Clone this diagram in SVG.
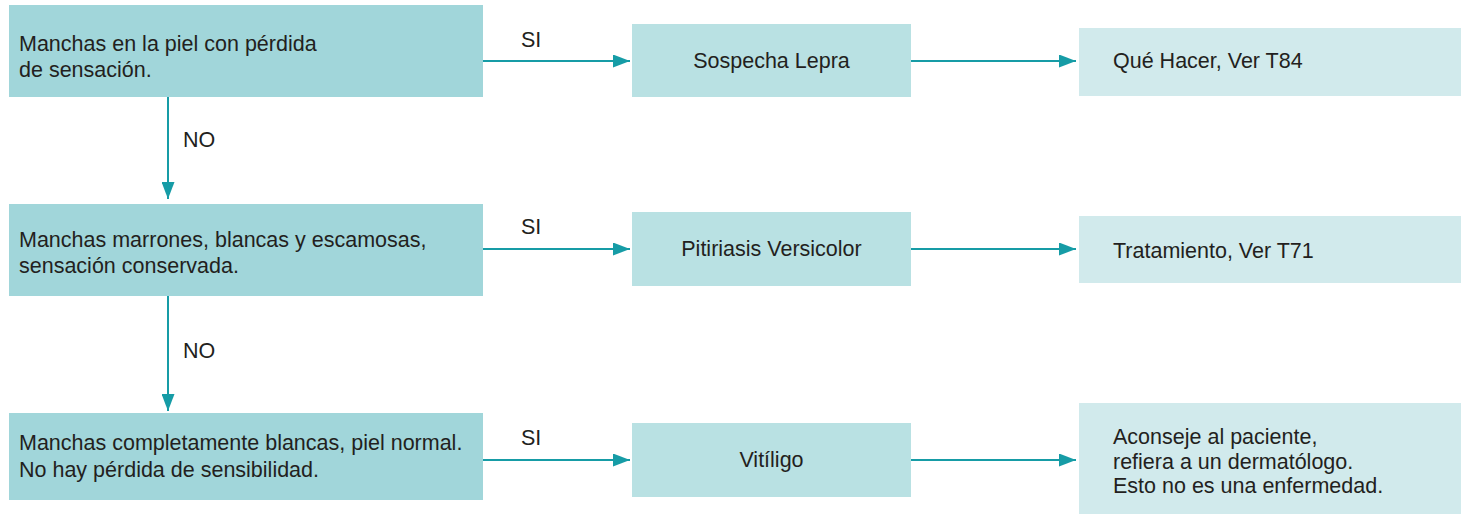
<svg xmlns="http://www.w3.org/2000/svg" width="1461" height="514" viewBox="0 0 1461 514">
<style>
.t{font-family:"Liberation Sans",Arial,sans-serif;font-size:21.5px;fill:#231f20}
.c{text-anchor:middle}
.q{fill:#a1d6da}
.d{fill:#b9e1e3}
.a{fill:#d1eaec}
.ln{stroke:#169ca6;stroke-width:2;fill:none;marker-end:url(#ah)}
</style>
<defs>
<marker id="ah" markerWidth="17" markerHeight="13" refX="17" refY="6.5" orient="auto" markerUnits="userSpaceOnUse">
<path d="M0,0 L17,6.5 L0,13 Z" fill="#169ca6"/>
</marker>
</defs>
<g id="q1"><rect class="q" x="9" y="5" width="474" height="92"/>
<text class="t" x="19" y="51">Manchas en la piel con pérdida</text>
<text class="t" x="19" y="77">de sensación.</text></g>
<g id="d1"><rect class="d" x="632" y="24" width="279" height="73"/>
<text class="t c" x="771.5" y="68">Sospecha Lepra</text></g>
<g id="a1"><rect class="a" x="1079" y="28" width="382" height="68"/>
<text class="t" x="1113" y="68">Qué Hacer, Ver T84</text></g>
<g id="q2"><rect class="q" x="9" y="204" width="474" height="92"/>
<text class="t" x="19" y="247">Manchas marrones, blancas y escamosas,</text>
<text class="t" x="19" y="273">sensación conservada.</text></g>
<g id="d2"><rect class="d" x="632" y="212" width="279" height="74"/>
<text class="t c" x="771.5" y="256">Pitiriasis Versicolor</text></g>
<g id="a2"><rect class="a" x="1079" y="216" width="382" height="67"/>
<text class="t" x="1113" y="258">Tratamiento, Ver T71</text></g>
<g id="q3"><rect class="q" x="9" y="413" width="474" height="87"/>
<text class="t" x="19" y="450">Manchas completamente blancas, piel normal.</text>
<text class="t" x="19" y="477">No hay pérdida de sensibilidad.</text></g>
<g id="d3"><rect class="d" x="632" y="423" width="279" height="74"/>
<text class="t c" x="771.5" y="467">Vitíligo</text></g>
<g id="a3"><rect class="a" x="1079" y="403" width="382" height="111"/>
<text class="t" x="1113" y="444">Aconseje al paciente,</text>
<text class="t" x="1113" y="469">refiera a un dermatólogo.</text>
<text class="t" x="1113" y="493">Esto no es una enfermedad.</text></g>
<g id="connectors">
<path class="ln" d="M483,61 H630"/>
<path class="ln" d="M911,61 H1076"/>
<path class="ln" d="M483,249 H630"/>
<path class="ln" d="M911,249 H1076"/>
<path class="ln" d="M483,460 H630"/>
<path class="ln" d="M911,460 H1076"/>
<path class="ln" d="M168,97 V199"/>
<path class="ln" d="M168,296 V411"/>
<text class="t" x="521" y="47">SI</text>
<text class="t" x="521" y="234">SI</text>
<text class="t" x="521" y="445">SI</text>
<text class="t" x="183" y="147">NO</text>
<text class="t" x="183" y="358">NO</text>
</g>
</svg>
